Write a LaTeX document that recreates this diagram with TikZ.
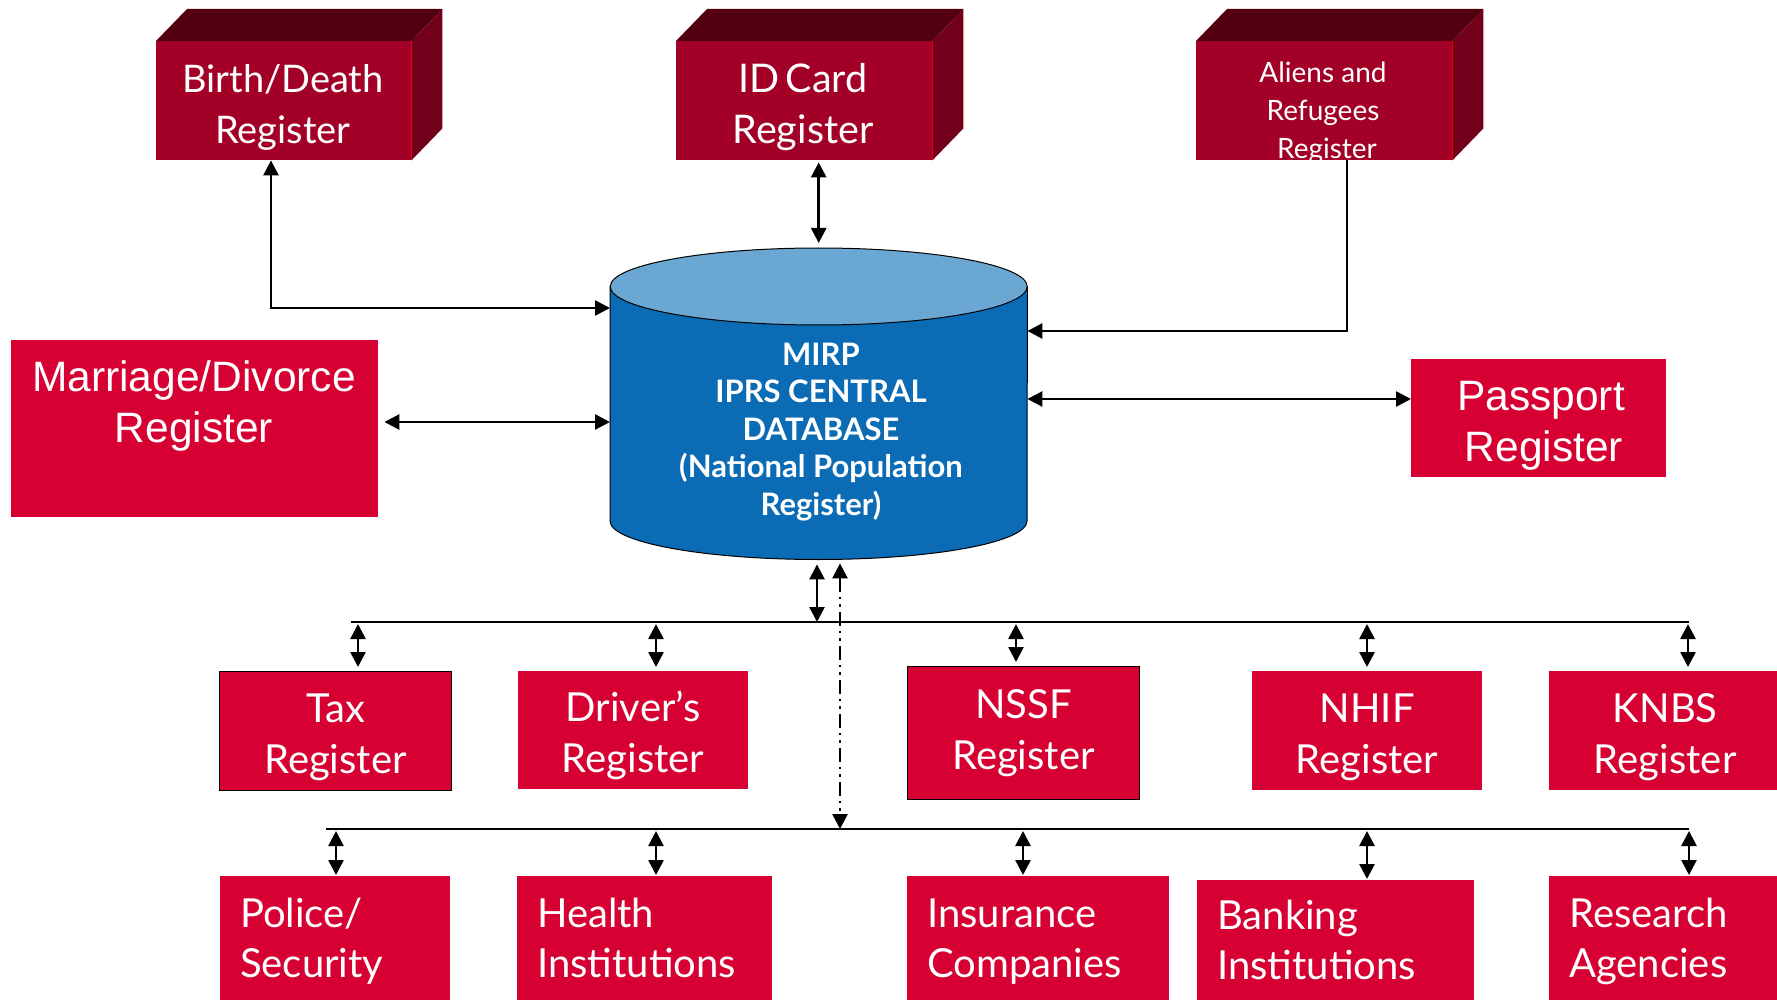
\documentclass[tikz,border=0pt]{standalone}
\usepackage{fontspec}
\setmainfont{Lato}
\newfontfamily\arialf{Liberation Sans}
\usetikzlibrary{arrows.meta}
\definecolor{boxfront}{HTML}{A20026}
\definecolor{boxtop}{HTML}{52000F}
\definecolor{boxside}{HTML}{72001B}
\definecolor{flatred}{HTML}{D60032}
\definecolor{cylside}{HTML}{0B6CB5}
\definecolor{cyltop}{HTML}{6BA7D3}
\begin{document}
\begin{tikzpicture}[x=1pt,y=-1pt,
  front/.style={fill=boxfront, inner sep=0pt, anchor=north west},
  tdtext/.style={text=white, align=center, inner sep=0pt, font=\fontsize{38}{51}\selectfont},
  flatbox/.style={fill=flatred, text=white, inner sep=0pt, align=center, anchor=north west, text height=94pt, text depth=9pt, font=\fontsize{40}{51}\selectfont},
  leftbox/.style={fill=flatred, text=white, inner xsep=20pt, inner ysep=0pt, align=left, anchor=north west, text height=30pt, text depth=52pt, font=\fontsize{40}{50}\selectfont},
  arialbox/.style={fill=flatred, inner sep=0pt, anchor=north west},
  arialtext/.style={text=white, align=center, inner sep=0pt, font=\arialf\fontsize{42.5}{51}\selectfont},
  tip/.style={line width=2.6pt, -{Triangle[length=15pt,width=15pt]}},
  dbl/.style={line width=2.6pt, {Triangle[length=15pt,width=15pt]}-{Triangle[length=15pt,width=15pt]}},
  bus/.style={line width=2.4pt},
]
\clip (0,0) rectangle (1777,1000);
\fill[white] (0,0) rectangle (1777,1000);

% ---------- 3D boxes ----------
\node[front, minimum width=255pt, minimum height=119pt] (bd) at (156,41) {};
\node[front, minimum width=256pt, minimum height=119pt] (id) at (676,41) {};
\node[front, minimum width=256pt, minimum height=119pt] (al) at (1196,41) {};
\foreach \n in {bd,id,al}{
  \fill[boxtop] (\n.north west) -- ++(31,-32) -- ([xshift=31pt,yshift=32pt]\n.north east) -- (\n.north east) -- cycle;
  \fill[boxside] (\n.north east) -- ++(31,-32) -- ([xshift=31pt,yshift=32pt]\n.south east) -- (\n.south east) -- cycle;
  \draw[red!75!boxfront, line width=1pt] (\n.north east) -- (\n.south east);
}
\node[tdtext] (bdt) at (283,107) {Birth/Death\\Register};
\node[tdtext, font=\fontsize{39.5}{51}\selectfont] (idt) at (803,107) {ID\,Card\\Register};
\begin{scope}
  \clip (al.north west) rectangle (al.south east);
  \node[tdtext, font=\fontsize{28}{38}\selectfont] (alt) at (1323,113) {Aliens and\\Refugees\\\hspace*{8pt}Register};
\end{scope}

% ---------- cylinder ----------
\node[inner sep=0pt, minimum width=417pt, minimum height=312pt, anchor=north west] (db) at (610,248) {};
\filldraw[fill=cylside, draw=black, line width=1pt] (db.west |- 0,287) -- (db.west |- 0,521)
  arc[start angle=180, end angle=360, x radius=208.5pt, y radius=38.5pt] -- (db.east |- 0,287) -- cycle;
\filldraw[fill=cyltop, draw=black, line width=1pt] (db.north |- 0,286.5) ellipse [x radius=208.5pt, y radius=38.5pt];
\node[text=white, align=center, inner sep=0pt, font=\bfseries\fontsize{31}{37.5}\selectfont] (dbt) at (821,432)
  {MIRP\\IPRS CENTRAL\\DATABASE\\(National Population\\Register)};

% ---------- side boxes ----------
\node[arialbox, minimum width=367pt, minimum height=177pt] (md) at (11,340) {};
\node[arialtext] (mdt) at (194,406) {Marriage/Divorce\\Register};
\node[arialbox, minimum width=255pt, minimum height=118pt] (pp) at (1411,359) {};
\node[arialtext] (ppt) at (1541,426) {Passport\\\hspace*{6pt}Register};

% ---------- top row ----------
\node[flatbox, draw=black, line width=1pt, minimum width=232pt, minimum height=119pt] (tax) at (219,671) {Tax\\Register};
\node[flatbox, minimum width=230pt, minimum height=118pt] (drv) at (518,671) {Driver’s\\Register};
\node[flatbox, draw=black, line width=1pt, minimum width=232pt, minimum height=133pt, text height=82pt] (nssf) at (907,666) {NSSF\\Register};
\node[flatbox, minimum width=230pt, minimum height=119pt] (nhif) at (1252,671) {NHIF\\Register};
\node[flatbox, minimum width=232pt, minimum height=119pt] (knbs) at (1549,671) {KNBS\\Register};

% ---------- bottom row ----------
\node[leftbox, text width=190pt, minimum height=124pt] (pol) at (220,876) {Police/\\Security};
\node[leftbox, text width=215pt, minimum height=124pt] (hlt) at (517,876) {Health\\Institutions};
\node[leftbox, text width=222pt, minimum height=124pt] (ins) at (907,876) {Insurance\\Companies};
\node[leftbox, text width=237pt, minimum height=120pt] (bnk) at (1197,880) {Banking\\Institutions};
\node[leftbox, text width=192pt, minimum height=124pt] (res) at (1549,876) {Research\\Agencies};

% ---------- connectors to the database ----------
\draw[dbl] (bd.south -| 271,0) |- (db.west |- 0,308);
\draw[dbl, shorten <=2pt, shorten >=5pt] (db.north |- id.south) -- (db.north);
\draw[tip] (al.south -| 1347,0) |- (db.east |- 0,331);
\draw[dbl] (db.east |- 0,399) -- (pp.west |- 0,399);
\draw[dbl, shorten <=6pt] (md.east |- 0,422) -- (db.west |- 0,422);

% ---------- buses ----------
\coordinate (b1l) at (351,622);
\coordinate (b1r) at (1689,622);
\coordinate (b2l) at (326,829);
\coordinate (b2r) at (1689,829);
\coordinate (b1m) at (817,622);
\coordinate (b2m) at (840,829);
\draw[bus] (b1l) -- (b1r);
\draw[bus] (b2l) -- (b2r);
\draw[dbl, shorten <=4pt] (db.south -| b1m) -- (b1m);
\draw[dbl, dash pattern=on 14pt off 5pt on 2.5pt off 5pt on 2.5pt off 5pt, shorten <=3pt] (db.south -| b2m) -- (b2m);

\foreach \x/\n in {358/tax, 656/drv, 1016/nssf, 1367/nhif, 1688/knbs}
  \draw[dbl, shorten <=2pt, shorten >=4pt] (\x,622) -- (\x,622 |- \n.north);
\foreach \x/\n in {336/pol, 656/hlt, 1023/ins, 1367/bnk, 1689/res}
  \draw[dbl, shorten <=2pt, shorten >=1pt] (\x,829) -- (\x,829 |- \n.north);
\end{tikzpicture}
\end{document}
